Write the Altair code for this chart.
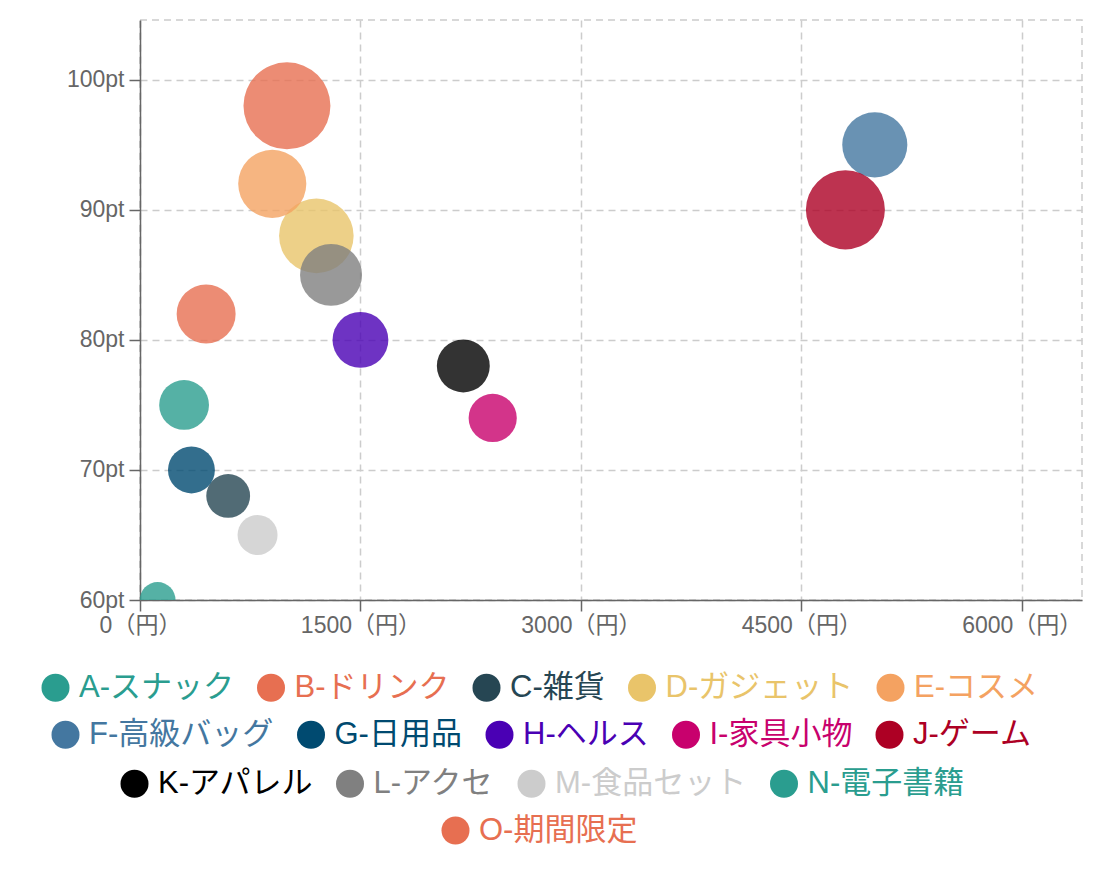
import json
import altair as alt
import pandas as pd

# ---- data ----
categories = ["A-スナック", "B-ドリンク", "C-雑貨", "D-ガジェット", "E-コスメ",
              "F-高級バッグ", "G-日用品", "H-ヘルス", "I-家具小物", "J-ゲーム",
              "K-アパレル", "L-アクセ", "M-食品セット", "N-電子書籍", "O-期間限定"]
prices = [300, 450, 600, 1200, 900, 5000, 350, 1500, 2400, 4800, 2200, 1300, 800, 120, 1000]
scores = [75, 82, 68, 88, 92, 95, 70, 80, 74, 90, 78, 85, 65, 60, 98]
volumes = [62, 87, 48, 139, 116, 106, 55, 78, 58, 156, 70, 96, 40, 32, 189]
colors = ["#2a9d8f", "#e76f51", "#264653", "#e9c46a", "#f4a261",
          "#4477a0", "#004a70", "#4a00b4", "#c8016d", "#ad0024",
          "#000000", "#808080", "#cccccc", "#2a9d8f", "#e76f51"]
x_ticks = [0, 1500, 3000, 4500, 6000]
y_ticks = [60, 70, 80, 90, 100]

# legend layout (rows of the centred, wrapped legend)
row_sizes = [5, 5, 4, 1]
legend_x = [-100, -90, -21, 300]
legend_y = [652, 699, 748, 795]

FONT = "Liberation Sans, Noto Sans CJK JP, sans-serif"

df = pd.DataFrame({"cat": categories, "price": prices, "score": scores, "volume": volumes})
color_map = dict(zip(categories, colors))
label_color_expr = json.dumps(color_map, ensure_ascii=False) + "[datum.value]"

base = alt.Chart(df).mark_circle(opacity=0.8, clip=True).encode(
    x=alt.X("price:Q",
            scale=alt.Scale(domain=[0, 6410], nice=False, zero=True),
            axis=alt.Axis(title=None, values=x_ticks, labelExpr="datum.value + '（円）'",
                          labelFlush=False, labelOverlap=False, labelPadding=3)),
    y=alt.Y("score:Q",
            scale=alt.Scale(domain=[60, 104.6], nice=False, zero=False),
            axis=alt.Axis(title=None, values=y_ticks, labelExpr="datum.value + 'pt'",
                          labelFlush=False, labelOverlap=False, labelPadding=5)),
    size=alt.Size("volume:Q", scale=alt.Scale(domain=[0, 200], range=[0, 8000]), legend=None),
)

layers = []
start = 0
for i, n in enumerate(row_sizes):
    cats = categories[start:start + n]
    cols = colors[start:start + n]
    start += n
    layer = base.transform_filter(
        alt.FieldOneOfPredicate(field="cat", oneOf=cats)
    ).encode(
        color=alt.Color("cat:N", scale=alt.Scale(domain=cats, range=cols),
                        legend=alt.Legend(
                            title=None, orient="none", legendX=legend_x[i], legendY=legend_y[i],
                            direction="horizontal", columns=n, padding=0,
                            symbolType="circle", symbolSize=784, symbolOpacity=1,
                            symbolStrokeWidth=0, labelFontSize=31, labelFont=FONT,
                            labelColor={"expr": label_color_expr}, labelLimit=400,
                            labelOffset=8, columnPadding=21.5))
    )
    layers.append(layer)

chart = alt.layer(*layers).resolve_scale(color="independent").resolve_legend(
    color="independent"
).properties(
    width=942, height=580,
    padding={"left": 32, "top": 12, "right": 5, "bottom": 5},
).configure_view(
    stroke="#cccccc", strokeDash=[7, 5], strokeWidth=1.5
).configure_axis(
    domainColor="#666666", domainWidth=1.5, tickColor="#666666", tickWidth=1.5, tickSize=11,
    labelColor="#666666", labelFontSize=23, labelFont=FONT,
    gridColor="#cccccc", gridDash=[7, 5], gridWidth=1.5,
)

chart.save("out.html", embed_options={"renderer": "svg", "actions": False})
